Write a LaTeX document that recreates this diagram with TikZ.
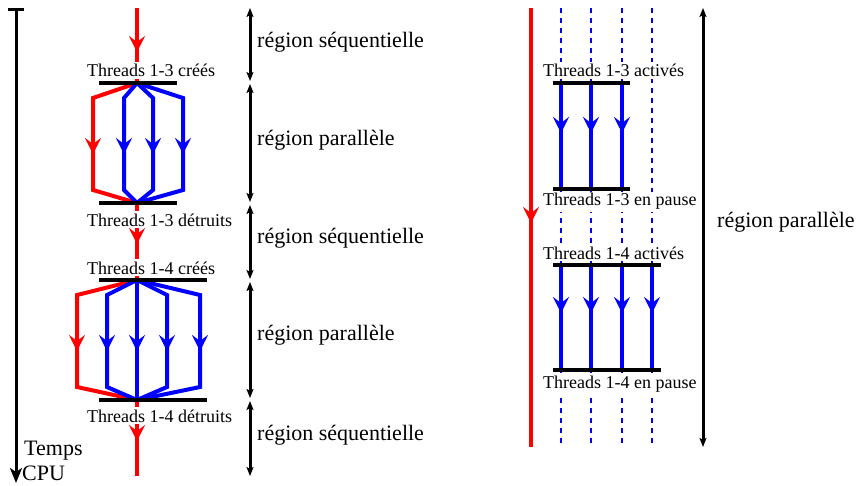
\documentclass[tikz,border=0pt]{standalone}
\usepackage{fontspec}
\setmainfont{Liberation Serif}
\usetikzlibrary{arrows.meta}
\begin{document}
\begin{tikzpicture}[x=1pt,y=-1pt,
  thr/.style={line width=4pt, line join=miter},
  redl/.style={thr, draw=red},
  bluel/.style={thr, draw=blue},
  midtip/.style={line width=4pt, -{Stealth[length=16pt,width=16pt,inset=6pt]}},
  bar/.style={line width=3.5pt, draw=black},
  tlabel/.style={fill=white, inner sep=2pt, anchor=base west, font=\fontsize{18}{20}\selectfont},
  rlabel/.style={inner sep=2pt, anchor=west, font=\fontsize{22}{26}\selectfont},
  span/.style={line width=3pt, {Stealth[length=9pt,width=7pt,inset=2pt]}-{Stealth[length=9pt,width=7pt,inset=2pt]}},
  dashl/.style={draw=blue, line width=2pt, dash pattern=on 5pt off 5pt},
]
\useasboundingbox (0,0) rectangle (858,486);

% ---------------- left part ----------------
\coordinate (s0) at (137,8);
\coordinate (f1) at (137,83);
\coordinate (j1) at (137,203);
\coordinate (f2) at (137,280);
\coordinate (j2) at (137,400);
\coordinate (e0) at (137,476);

% time axis
\draw[line width=3pt, {Bar[width=16pt]}-{Stealth[length=15pt,width=12pt,inset=4pt]}] (16,8) -- (16,483);
\node[anchor=base west, inner sep=0pt, font=\fontsize{22}{26}\selectfont] (temps) at (24,455) {Temps};
\node[anchor=base west, inner sep=0pt, font=\fontsize{22}{26}\selectfont] (cpu) at (22,480) {CPU};

% sequential red lines
\draw[redl] (s0) -- (f1);
\draw[redl] (j1) -- (f2);
\draw[redl] (j2) -- (e0);
\draw[midtip, red] (137,20) -- (137,52);
\draw[midtip, red] (137,215) -- (137,244);
\draw[midtip, red] (137,410) -- (137,441);

% parallel region 1
\draw[redl] (f1) -- (93,98) -- (93,190) -- (j1);
\foreach \x in {124,153,183} \draw[bluel] (f1) -- (\x,98) -- (\x,190) -- (j1);
\draw[midtip, red] (93,110) -- (93,154);
\foreach \x in {124,153,183} \draw[midtip, blue] (\x,110) -- (\x,154);

% parallel region 2
\draw[redl] (f2) -- (77,295) -- (77,387) -- (j2);
\foreach \x in {107,137,167,200} \draw[bluel] (f2) -- (\x,295) -- (\x,387) -- (j2);
\draw[midtip, red] (77,305) -- (77,351);
\foreach \x in {107,137,167,200} \draw[midtip, blue] (\x,305) -- (\x,351);

% labels
\node[tlabel] (l13c) at (85,77) {Threads 1-3 créés};
\node[tlabel] (l13d) at (85,226) {Threads 1-3 détruits};
\node[tlabel] (l14c) at (85,274) {Threads 1-4 créés};
\node[tlabel] (l14d) at (85,422) {Threads 1-4 détruits};

% bars
\draw[bar] (99,83) -- (177,83);
\draw[bar] (99,203) -- (177,203);
\draw[bar] (99,280) -- (207,280);
\draw[bar] (99,400) -- (207,400);

% region spans
\draw[span] (250,8) -- (250,81);
\draw[span] (250,84) -- (250,202);
\draw[span] (250,205) -- (250,279);
\draw[span] (250,282) -- (250,398);
\draw[span] (250,401) -- (250,476);
\node[rlabel] (r1) at (255,42) {région séquentielle};
\node[rlabel] (r2) at (255,140) {région parallèle};
\node[rlabel] (r3) at (255,238) {région séquentielle};
\node[rlabel] (r4) at (255,335) {région parallèle};
\node[rlabel] (r5) at (255,435) {région séquentielle};

% ---------------- right part ----------------
\draw[redl] (531,8) -- (531,447);
\draw[midtip, red] (531,180) -- (531,223);
\foreach \x in {561,591,622,652} \draw[dashl] (\x,8) -- (\x,447);
\foreach \x in {561,591,622} {
  \draw[bluel] (\x,83) -- (\x,189);
  \draw[midtip, blue] (\x,95) -- (\x,133);
}
\foreach \x in {561,591,622,652} {
  \draw[bluel] (\x,265) -- (\x,370);
  \draw[midtip, blue] (\x,275) -- (\x,313);
}
\node[tlabel] (a13) at (541,77) {Threads 1-3 activés};
\node[tlabel] (p13) at (541,206) {Threads 1-3 en pause};
\node[tlabel] (a14) at (541,259) {Threads 1-4 activés};
\node[tlabel] (p14) at (541,388) {Threads 1-4 en pause};
\draw[bar] (553,83) -- (630,83);
\draw[bar] (553,189) -- (630,189);
\draw[bar] (553,265) -- (661,265);
\draw[bar] (553,370) -- (661,370);

\draw[span] (703,8) -- (703,447);
\node[rlabel] (rp) at (715,222) {région parallèle};
\end{tikzpicture}
\end{document}
